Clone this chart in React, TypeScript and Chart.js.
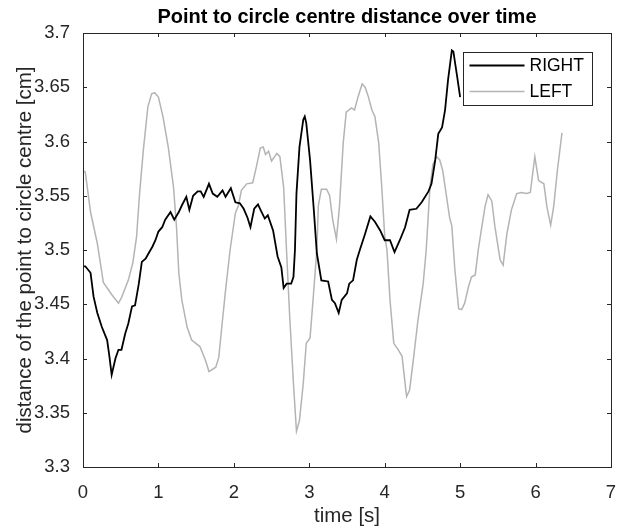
import React, { useEffect, useRef } from 'react';
import { Chart, registerables } from 'chart.js';

Chart.register(...registerables);

// ---- data ----
const rightTime = [0, 0.03, 0.1, 0.14, 0.19, 0.25, 0.32, 0.35, 0.38, 0.43, 0.47, 0.51, 0.56, 0.6, 0.65, 0.69, 0.74, 0.78, 0.83, 0.87, 0.92, 0.96, 1.0, 1.05, 1.09, 1.16, 1.21, 1.27, 1.31, 1.37, 1.41, 1.46, 1.52, 1.56, 1.6, 1.67, 1.72, 1.78, 1.85, 1.89, 1.96, 2.02, 2.08, 2.13, 2.18, 2.22, 2.27, 2.32, 2.36, 2.41, 2.45, 2.52, 2.58, 2.63, 2.66, 2.7, 2.76, 2.79, 2.81, 2.83, 2.87, 2.92, 2.94, 2.96, 3.01, 3.06, 3.1, 3.16, 3.25, 3.3, 3.34, 3.39, 3.43, 3.5, 3.53, 3.58, 3.63, 3.67, 3.74, 3.81, 3.87, 3.94, 4.0, 4.07, 4.13, 4.2, 4.27, 4.33, 4.42, 4.49, 4.58, 4.62, 4.67, 4.71, 4.76, 4.8, 4.84, 4.89, 4.91, 4.96, 5.0];
const rightValue = [3.485, 3.485, 3.479, 3.457, 3.442, 3.429, 3.417, 3.402, 3.385, 3.4, 3.408, 3.408, 3.423, 3.432, 3.448, 3.449, 3.469, 3.489, 3.492, 3.497, 3.503, 3.509, 3.517, 3.521, 3.528, 3.535, 3.528, 3.535, 3.541, 3.549, 3.537, 3.55, 3.554, 3.554, 3.549, 3.561, 3.552, 3.549, 3.555, 3.549, 3.557, 3.544, 3.543, 3.538, 3.53, 3.521, 3.538, 3.542, 3.536, 3.529, 3.532, 3.518, 3.494, 3.484, 3.465, 3.469, 3.469, 3.475, 3.5, 3.552, 3.595, 3.62, 3.623, 3.617, 3.583, 3.537, 3.497, 3.472, 3.471, 3.454, 3.451, 3.442, 3.454, 3.46, 3.469, 3.472, 3.491, 3.5, 3.515, 3.531, 3.526, 3.518, 3.509, 3.509, 3.498, 3.509, 3.521, 3.537, 3.538, 3.544, 3.554, 3.561, 3.583, 3.607, 3.613, 3.629, 3.657, 3.684, 3.683, 3.66, 3.641];

const leftTime = [0, 0.03, 0.1, 0.19, 0.27, 0.38, 0.47, 0.51, 0.6, 0.66, 0.71, 0.75, 0.8, 0.86, 0.91, 0.95, 1.0, 1.06, 1.13, 1.2, 1.24, 1.27, 1.31, 1.38, 1.44, 1.55, 1.62, 1.67, 1.76, 1.8, 1.84, 1.89, 1.95, 2.02, 2.06, 2.1, 2.17, 2.25, 2.3, 2.35, 2.39, 2.42, 2.46, 2.5, 2.57, 2.61, 2.66, 2.7, 2.74, 2.79, 2.83, 2.87, 2.92, 2.96, 3.01, 3.05, 3.1, 3.12, 3.16, 3.23, 3.27, 3.31, 3.36, 3.4, 3.45, 3.49, 3.56, 3.6, 3.65, 3.7, 3.74, 3.78, 3.83, 3.87, 3.92, 3.96, 4.0, 4.03, 4.07, 4.12, 4.18, 4.23, 4.27, 4.29, 4.33, 4.38, 4.44, 4.51, 4.55, 4.6, 4.64, 4.69, 4.73, 4.77, 4.82, 4.86, 4.89, 4.93, 4.98, 5.02, 5.06, 5.11, 5.15, 5.2, 5.24, 5.28, 5.33, 5.37, 5.42, 5.46, 5.53, 5.57, 5.62, 5.68, 5.75, 5.81, 5.88, 5.93, 5.99, 6.04, 6.11, 6.15, 6.2, 6.24, 6.29, 6.35];
const leftValue = [3.573, 3.572, 3.535, 3.506, 3.47, 3.459, 3.451, 3.456, 3.472, 3.488, 3.512, 3.552, 3.592, 3.632, 3.644, 3.645, 3.641, 3.623, 3.595, 3.558, 3.521, 3.479, 3.454, 3.429, 3.417, 3.411, 3.399, 3.388, 3.392, 3.401, 3.429, 3.463, 3.5, 3.534, 3.541, 3.555, 3.561, 3.562, 3.577, 3.594, 3.595, 3.588, 3.591, 3.582, 3.589, 3.586, 3.558, 3.497, 3.439, 3.377, 3.333, 3.343, 3.377, 3.414, 3.419, 3.454, 3.5, 3.541, 3.556, 3.556, 3.55, 3.528, 3.51, 3.54, 3.599, 3.627, 3.631, 3.629, 3.642, 3.653, 3.65, 3.642, 3.629, 3.623, 3.599, 3.559, 3.513, 3.5, 3.454, 3.414, 3.408, 3.402, 3.377, 3.365, 3.371, 3.399, 3.435, 3.469, 3.5, 3.558, 3.579, 3.586, 3.583, 3.573, 3.549, 3.53, 3.522, 3.482, 3.446, 3.445, 3.451, 3.466, 3.475, 3.477, 3.5, 3.518, 3.54, 3.551, 3.545, 3.522, 3.491, 3.486, 3.515, 3.537, 3.552, 3.553, 3.552, 3.553, 3.586, 3.564, 3.561, 3.54, 3.523, 3.54, 3.574, 3.608];

const seriesLabels = ['RIGHT', 'LEFT'];
const xTicks = [0, 1, 2, 3, 4, 5, 6, 7];
const yTicks = [3.3, 3.35, 3.4, 3.45, 3.5, 3.55, 3.6, 3.65, 3.7];

const titleText = 'Point to circle centre distance over time';
const xTitle = 'time [s]';
const yTitle = 'distance of the point to circle centre [cm]';

// ---- styles ----
const AXIS = '#262626';
const FONT = '"Liberation Sans", Arial, Helvetica, sans-serif';
const COLORS = ['#000000', '#b4b4b4'];
const WIDTHS = [1.8, 1.5];

const zip = (xs: number[], ys: number[]) => xs.map((x, i) => ({ x, y: ys[i] }));

const matlabAxes = {
  id: 'matlabAxes',
  afterDatasetsDraw(chart: any) {
    const { ctx, chartArea: a, scales } = chart;
    const L = 4;
    ctx.save();
    ctx.strokeStyle = AXIS;
    ctx.lineWidth = 1;
    ctx.beginPath();
    scales.x.ticks.forEach((t: any) => {
      const px = Math.round(scales.x.getPixelForValue(t.value)) + 0.5;
      ctx.moveTo(px, a.bottom);
      ctx.lineTo(px, a.bottom - L);
      ctx.moveTo(px, a.top);
      ctx.lineTo(px, a.top + L);
    });
    scales.y.ticks.forEach((t: any) => {
      const py = Math.round(scales.y.getPixelForValue(t.value)) + 0.5;
      ctx.moveTo(a.left, py);
      ctx.lineTo(a.left + L, py);
      ctx.moveTo(a.right, py);
      ctx.lineTo(a.right - L, py);
    });
    ctx.stroke();
    ctx.strokeRect(Math.round(a.left) + 0.5, Math.round(a.top) + 0.5, Math.round(a.right - a.left), Math.round(a.bottom - a.top));

    // legend box
    const bx = Math.round(a.right) - 147.5;
    const by = Math.round(a.top) + 19.5;
    const bw = 129;
    const bh = 53;
    ctx.fillStyle = '#ffffff';
    ctx.fillRect(bx, by, bw, bh);
    ctx.strokeStyle = AXIS;
    ctx.lineWidth = 1;
    ctx.strokeRect(bx, by, bw, bh);
    ctx.font = `17.5px ${FONT}`;
    ctx.textBaseline = 'middle';
    ctx.textAlign = 'left';
    chart.data.datasets.forEach((ds: any, i: number) => {
      const ly = by + 13 + i * 26;
      ctx.beginPath();
      ctx.strokeStyle = ds.borderColor;
      ctx.lineWidth = ds.borderWidth;
      ctx.moveTo(bx + 6, ly);
      ctx.lineTo(bx + 61, ly);
      ctx.stroke();
      ctx.fillStyle = '#000000';
      ctx.fillText(ds.label, bx + 66, ly + 1);
    });
    ctx.restore();
  },
};

const fmt = (v: any) => String(Number(Number(v).toFixed(2)));

export default function App() {
  const ref = useRef<HTMLCanvasElement | null>(null);
  useEffect(() => {
    if (!ref.current) return;
    const chart = new Chart(ref.current, {
      type: 'line',
      data: {
        datasets: [
          {
            label: seriesLabels[0],
            data: zip(rightTime, rightValue),
            borderColor: COLORS[0],
            borderWidth: WIDTHS[0],
            pointRadius: 0,
            tension: 0,
            fill: false,
          },
          {
            label: seriesLabels[1],
            data: zip(leftTime, leftValue),
            borderColor: COLORS[1],
            borderWidth: WIDTHS[1],
            pointRadius: 0,
            tension: 0,
            fill: false,
          },
        ],
      },
      options: {
        animation: false,
        responsive: false,
        maintainAspectRatio: false,
        layout: { padding: { left: 0, right: 13, top: 0, bottom: 0 } },
        plugins: {
          legend: { display: false },
          tooltip: { enabled: false },
          title: {
            display: true,
            text: titleText,
            fullSize: false,
            color: '#000000',
            font: { family: FONT, size: 20, weight: 'bold', lineHeight: 1.2 },
            padding: { top: 5, bottom: 4 },
          },
        },
        scales: {
          x: {
            type: 'linear',
            min: 0,
            max: 7,
            grid: { display: false },
            border: { display: false },
            afterBuildTicks: (s: any) => {
              s.ticks = xTicks.map((v) => ({ value: v }));
            },
            afterFit: (s: any) => {
              s.height = 61;
            },
            ticks: {
              color: AXIS,
              padding: 7,
              maxRotation: 0,
              autoSkip: false,
              font: { family: FONT, size: 18.5 },
              callback: fmt,
            },
            title: {
              display: true,
              text: xTitle,
              color: AXIS,
              font: { family: FONT, size: 20.5, lineHeight: 1.0 },
              padding: { top: 0, bottom: 1.5 },
            },
          },
          y: {
            type: 'linear',
            min: 3.3,
            max: 3.7,
            grid: { display: false },
            border: { display: false },
            afterBuildTicks: (s: any) => {
              s.ticks = yTicks.map((v) => ({ value: v }));
            },
            afterFit: (s: any) => {
              s.width = 83;
            },
            ticks: {
              color: AXIS,
              padding: 5,
              autoSkip: false,
              font: { family: FONT, size: 18.5 },
              callback: fmt,
            },
            title: {
              display: true,
              text: yTitle,
              color: AXIS,
              font: { family: FONT, size: 20.5, lineHeight: 1.2 },
              padding: { top: 13, bottom: 0 },
            },
          },
        },
      },
      plugins: [matlabAxes],
    } as any);
    return () => chart.destroy();
  }, []);

  return (
    <div style={{ position: 'fixed', left: 0, top: 0, width: 624, height: 528, background: '#ffffff' }}>
      <canvas ref={ref} width={624} height={528} style={{ width: 624, height: 528, display: 'block' }} />
    </div>
  );
}
